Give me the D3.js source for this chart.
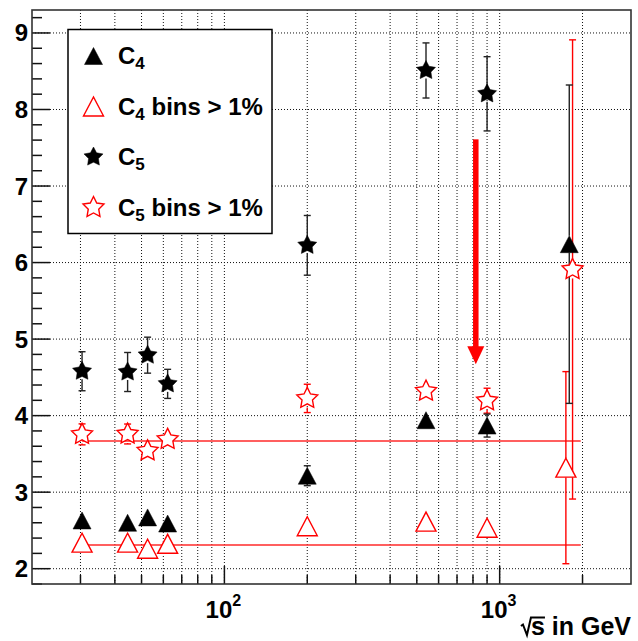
<!DOCTYPE html>
<html>
<head>
<meta charset="utf-8">
<script src="https://cdn.jsdelivr.net/npm/d3@7"></script>
<style>
  body { margin: 0; background: #fff; }
  text { font-family: "Liberation Sans", Arial, Helvetica, sans-serif; font-weight: bold; }
</style>
</head>
<body>
<svg id="chart" width="638" height="641"></svg>
<script>
// Centre-of-mass energies (GeV) and moments for each series
const c4Energy = [30.4, 44.5, 52.6, 62.2, 200, 540, 900, 1790];
const c4Value  = [2.63, 2.60, 2.67, 2.59, 3.215, 3.94, 3.87, 6.24];
const c4Error  = [0.03, 0.03, 0.03, 0.03, 0.13, 0.04, 0.15, 2.08];

const c4BinsEnergy = [30.4, 44.5, 52.6, 62.2, 200, 540, 900, 1740];
const c4BinsValue  = [2.34, 2.34, 2.26, 2.325, 2.555, 2.615, 2.535, 3.32];
const c4BinsError  = [0.03, 0.03, 0.03, 0.03, 0.03, 0.03, 0.03, 1.255];

const c5Energy = [30.4, 44.5, 52.6, 62.2, 200, 540, 900];
const c5Value  = [4.58, 4.57, 4.79, 4.415, 6.225, 8.51, 8.205];
const c5Error  = [0.255, 0.255, 0.235, 0.19, 0.39, 0.36, 0.485];

const c5BinsEnergy = [30.4, 44.5, 52.6, 62.2, 200, 540, 900, 1840];
const c5BinsValue  = [3.755, 3.76, 3.54, 3.69, 4.225, 4.32, 4.195, 5.91];
const c5BinsError  = [0.137, 0.13, 0.10, 0.115, 0.185, 0.06, 0.163, 3.0];

// Constant levels of the "bins > 1%" series and their energy span
const fitLevels = [2.31, 3.67];
const fitRange = [30.4, 1970];

// Downward arrow
const arrowEnergy = 819;
const arrowFrom = 7.61;
const arrowTo = 4.67;

// Axis ticks
const yMajorTicks = [2, 3, 4, 5, 6, 7, 8, 9];
const xGridTicks = [30, 40, 50, 60, 70, 80, 90, 100, 200, 300, 400, 500, 600, 700, 800, 900, 1000, 2000];
const xLabelTicks = [{ v: 100, base: "10", exp: "2" }, { v: 1000, base: "10", exp: "3" }];

// Legend rows: subscript and trailing text
const legendSubs = ["4", "4", "5", "5"];
const legendTails = ["", " bins > 1%", "", " bins > 1%"];

const svg = d3.select("#chart");
const frame = { left: 32, right: 631, top: 10, bottom: 584 };

const x = d3.scaleLog().domain([20, 3000]).range([frame.left, frame.right]);
const y = d3.scaleLinear().domain([1.8, 9.3]).range([frame.bottom, frame.top]);

const RED = "#ff0000";
const DARK = "#222";

// ---- grid ----
const grid = svg.append("g").attr("stroke", "#111").attr("stroke-width", 1)
  .attr("stroke-dasharray", "1,2");
xGridTicks.forEach(t => {
  grid.append("line").attr("x1", x(t)).attr("x2", x(t))
    .attr("y1", frame.top).attr("y2", frame.bottom);
});
yMajorTicks.forEach(t => {
  grid.append("line").attr("x1", frame.left).attr("x2", frame.right)
    .attr("y1", y(t)).attr("y2", y(t));
});

// ---- ticks (drawn inside the frame) ----
const ticks = svg.append("g").attr("stroke", "#111").attr("stroke-width", 1.5);
d3.range(18, 93, 2).map(d => d / 10).forEach(t => {
  const major = Math.abs(t - Math.round(t)) < 1e-6;
  ticks.append("line").attr("x1", frame.left).attr("x2", frame.left + (major ? 18 : 10))
    .attr("y1", y(t)).attr("y2", y(t));
});
xGridTicks.forEach(t => {
  const major = t === 100 || t === 1000;
  ticks.append("line").attr("x1", x(t)).attr("x2", x(t))
    .attr("y1", frame.bottom).attr("y2", frame.bottom - (major ? 18 : 9));
});

// ---- tick labels ----
yMajorTicks.forEach(t => {
  svg.append("text").attr("x", 28).attr("y", y(t) + 8.5)
    .attr("text-anchor", "end").attr("font-size", 24).attr("fill", "#000").text(t);
});
xLabelTicks.forEach(d => {
  const tx = svg.append("text").attr("x", x(d.v) - 1).attr("y", 618)
    .attr("text-anchor", "middle").attr("font-size", 24).attr("fill", "#000");
  tx.append("tspan").text(d.base);
  tx.append("tspan").attr("font-size", 16).attr("dy", -12).text(d.exp);
});

// ---- axis title: sqrt(s) in GeV ----
const title = svg.append("text").attr("x", 631).attr("y", 635)
  .attr("text-anchor", "end").attr("font-size", 25).attr("fill", "#000")
  .text("s in GeV");
const tb = title.node().getBBox();
const sx = tb.x;
svg.append("path")
  .attr("d", `M${sx - 10},${626} L${sx - 8},${624.5} L${sx - 4},${635} L${sx},${617.5} L${sx + 14},${617.5}`)
  .attr("fill", "none").attr("stroke", "#000").attr("stroke-width", 2);

// ---- constant levels ----
fitLevels.forEach(v => {
  svg.append("line").attr("x1", x(fitRange[0])).attr("x2", x(fitRange[1]))
    .attr("y1", y(v)).attr("y2", y(v))
    .attr("stroke", "#ff2a2a").attr("stroke-width", 1.5);
});

// ---- marker shapes ----
function triPath(w, h) {
  return `M${-w / 2},${h / 2} L${w / 2},${h / 2} L0,${-h / 2} Z`;
}
function starPath(R, ratio) {
  const r = R * ratio;
  const pts = d3.range(10).map(i => {
    const a = -Math.PI / 2 + i * Math.PI / 5;
    const rr = i % 2 === 0 ? R : r;
    return [rr * Math.cos(a), rr * Math.sin(a)];
  });
  return "M" + pts.map(p => p.join(",")).join("L") + "Z";
}

const shapes = {
  c4: triPath(18, 17),
  c4Bins: triPath(20, 19),
  c5: starPath(10, 0.52),
  c5Bins: starPath(11, 0.5)
};

const series = [
  { xs: c4BinsEnergy, vs: c4BinsValue, es: c4BinsError, color: RED, shape: shapes.c4Bins, half: 9.5, fill: "#fff", stroke: RED, sw: 1.4 },
  { xs: c5BinsEnergy, vs: c5BinsValue, es: c5BinsError, color: RED, shape: shapes.c5Bins, half: 9, fill: "#fff", stroke: RED, sw: 1.4 },
  { xs: c4Energy, vs: c4Value, es: c4Error, color: DARK, shape: shapes.c4, half: 8.5, fill: "#000", stroke: "#000", sw: 0.5 },
  { xs: c5Energy, vs: c5Value, es: c5Error, color: DARK, shape: shapes.c5, half: 8, fill: "#000", stroke: "#000", sw: 0.5 }
];

// error bars first, markers on top
series.forEach(s => {
  const g = svg.append("g").attr("stroke", s.color).attr("stroke-width", 1.4).attr("fill", "none");
  s.xs.forEach((e, i) => {
    const px = x(e), py = y(s.vs[i]);
    const top = y(s.vs[i] + s.es[i]), bot = y(s.vs[i] - s.es[i]);
    if (top < py - s.half) {
      g.append("line").attr("x1", px).attr("x2", px).attr("y1", top).attr("y2", py - s.half);
      g.append("line").attr("x1", px - 3.5).attr("x2", px + 3.5).attr("y1", top).attr("y2", top);
    }
    if (bot > py + s.half) {
      g.append("line").attr("x1", px).attr("x2", px).attr("y1", py + s.half).attr("y2", bot);
      g.append("line").attr("x1", px - 3.5).attr("x2", px + 3.5).attr("y1", bot).attr("y2", bot);
    }
  });
});
series.forEach(s => {
  s.xs.forEach((e, i) => {
    svg.append("path").attr("d", s.shape)
      .attr("transform", `translate(${x(e)},${y(s.vs[i])})`)
      .attr("fill", s.fill).attr("stroke", s.stroke).attr("stroke-width", s.sw)
      .attr("stroke-linejoin", "miter");
  });
});

// ---- arrow ----
const ax = x(arrowEnergy);
const headLen = 18, headW = 17, shaftW = 5.5;
const yTip = y(arrowTo), yTail = y(arrowFrom);
svg.append("rect").attr("x", ax - shaftW / 2).attr("y", yTail)
  .attr("width", shaftW).attr("height", yTip - headLen - yTail + 1).attr("fill", RED);
svg.append("path")
  .attr("d", `M${ax - headW / 2},${yTip - headLen} L${ax + headW / 2},${yTip - headLen} L${ax},${yTip} Z`)
  .attr("fill", RED);

// ---- frame ----
svg.append("rect").attr("x", frame.left).attr("y", frame.top)
  .attr("width", frame.right - frame.left).attr("height", frame.bottom - frame.top)
  .attr("fill", "none").attr("stroke", "#333").attr("stroke-width", 1.6);

// ---- legend ----
const legend = svg.append("g");
legend.append("rect").attr("x", 68).attr("y", 29.5).attr("width", 204).attr("height", 204)
  .attr("fill", "#fff").attr("stroke", "#000").attr("stroke-width", 1.5);
const legendMarks = [
  { shape: shapes.c4, fill: "#000", stroke: "#000", sw: 0.5 },
  { shape: shapes.c4Bins, fill: "#fff", stroke: RED, sw: 1.4 },
  { shape: shapes.c5, fill: "#000", stroke: "#000", sw: 0.5 },
  { shape: shapes.c5Bins, fill: "#fff", stroke: RED, sw: 1.4 }
];
legendMarks.forEach((m, i) => {
  const cy = 56 + i * 50.5;
  legend.append("path").attr("d", m.shape).attr("transform", `translate(93.5,${cy})`)
    .attr("fill", m.fill).attr("stroke", m.stroke).attr("stroke-width", m.sw);
  const t = legend.append("text").attr("x", 118).attr("y", cy + 8)
    .attr("font-size", 24).attr("fill", "#000");
  t.append("tspan").text("C");
  t.append("tspan").attr("font-size", 17).attr("dy", 5).text(legendSubs[i]);
  if (legendTails[i]) t.append("tspan").attr("dy", -5).text(legendTails[i]);
});
</script>
</body>
</html>
